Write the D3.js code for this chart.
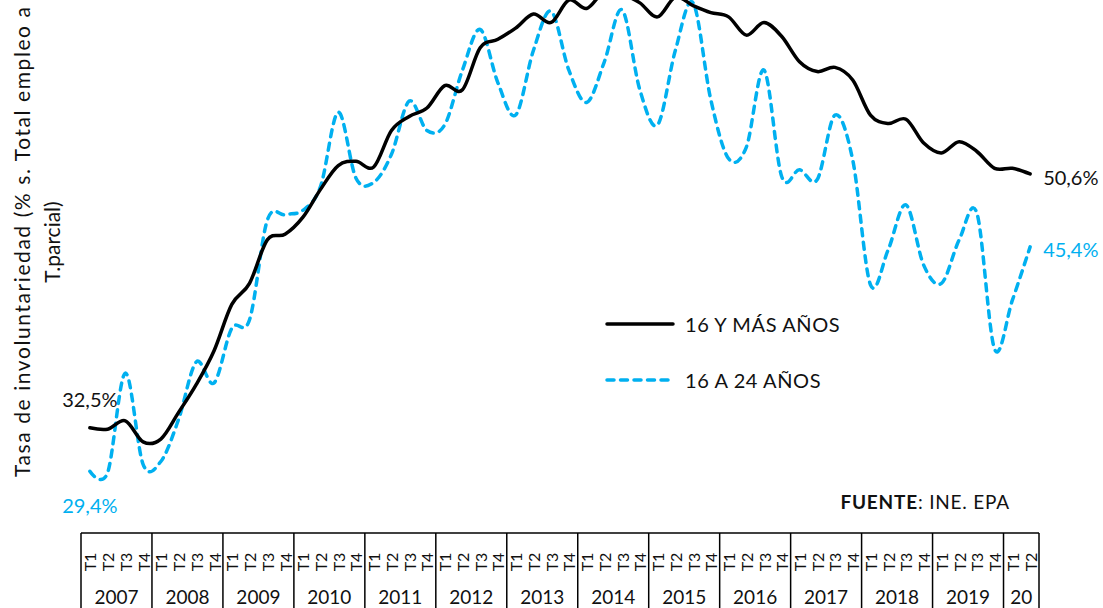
<!DOCTYPE html>
<html>
<head>
<meta charset="utf-8">
<script src="https://cdn.jsdelivr.net/npm/d3@7"></script>
<style>
  html, body { margin: 0; padding: 0; background: #fff; }
  svg { display: block; }
  svg text { font-family: Lato, "Open Sans", sans-serif; }
</style>
</head>
<body>
<svg id="chart" width="1103" height="608"></svg>
<script>
// ---------- DATA ----------
const years = ["2007","2008","2009","2010","2011","2012","2013","2014","2015","2016","2017","2018","2019","20"];
const quarterLabels = ["T1","T2","T3","T4"];
const quartersInLastYear = 2;

const serieTotal = [32.5,32.4,33.0,31.5,31.7,33.6,35.6,38.0,41.3,42.8,45.9,46.3,47.5,49.5,51.2,51.5,51.1,53.7,54.7,55.3,56.9,56.6,59.6,60.2,61.0,62.0,61.4,63.0,62.4,63.6,63.4,62.8,61.8,63.2,62.6,62.1,61.8,60.5,61.4,60.4,58.6,57.9,58.2,57.3,54.8,54.2,54.5,52.8,52.1,52.9,52.2,51.0,51.0,50.6];
const serieJovenes = [29.4,29.3,36.4,29.9,30.1,33.1,37.2,35.7,39.6,40.2,47.3,47.7,48.0,49.7,55.0,50.3,50.0,52.0,55.8,53.7,54.1,58.0,60.9,57.1,54.8,59.4,62.2,58.0,55.7,58.6,62.3,56.6,54.1,59.4,62.8,55.9,51.7,52.5,58.0,50.4,50.9,50.2,54.8,51.6,42.7,45.2,48.4,44.1,42.8,45.9,47.8,38.1,41.6,45.4];

const seriesNames = ["16 Y MÁS AÑOS", "16 A 24 AÑOS"];
const yTitleLines = ["Tasa de involuntariedad (% s. Total empleo a", "T.parcial)"];
const sourceBold = "FUENTE";
const sourceText = ": INE. EPA";

// ---------- BUILD PERIODS ----------
const periods = [];
years.forEach((yr, yi) => {
  const n = yi === years.length - 1 ? quartersInLastYear : 4;
  for (let q = 0; q < n; q++) periods.push({ key: yr + "-" + quarterLabels[q], year: yr, q: quarterLabels[q], yi });
});

// ---------- SCALES ----------
const svg = d3.select("#chart");
const axisY = 533;
const x = d3.scaleBand().domain(periods.map(p => p.key)).range([81, 1039]).padding(0);
const xc = k => x(k) + x.bandwidth() / 2;
const y = d3.scaleLinear().domain([25, 65]).range([axisY, -28]);

const blue = "#00B0F0";
const ink = "#111";

// ---------- LINES ----------
const lineGen = d3.line()
  .x((d, i) => xc(periods[i].key))
  .y(d => y(d))
  .curve(d3.curveCardinal.tension(0));

svg.append("path").datum(serieJovenes)
  .attr("d", lineGen)
  .attr("fill", "none").attr("stroke", blue).attr("stroke-width", 3.5)
  .attr("stroke-dasharray", "7,6.5").attr("stroke-linecap", "round");

svg.append("path").datum(serieTotal)
  .attr("d", lineGen)
  .attr("fill", "none").attr("stroke", "#000").attr("stroke-width", 3.5)
  .attr("stroke-linecap", "round");

// ---------- X AXIS (table style) ----------
const ax = svg.append("g");
ax.append("line").attr("x1", x.range()[0]).attr("x2", x.range()[1])
  .attr("y1", axisY).attr("y2", axisY).attr("stroke", "#000").attr("stroke-width", 1.5);

const yearStarts = years.map((yr, yi) => periods.find(p => p.yi === yi));
const bounds = yearStarts.map(p => x(p.key)).concat([x.range()[1]]);
ax.selectAll("line.sep").data(bounds).join("line")
  .attr("class", "sep")
  .attr("x1", d => d).attr("x2", d => d)
  .attr("y1", axisY).attr("y2", 620)
  .attr("stroke", "#000").attr("stroke-width", 1.5);

ax.selectAll("text.q").data(periods).join("text")
  .attr("class", "q")
  .attr("transform", d => `translate(${xc(d.key)},${axisY + 29}) rotate(-90)`)
  .attr("text-anchor", "middle").attr("dominant-baseline", "central")
  .attr("font-size", 16).attr("fill", ink)
  .text(d => d.q);

ax.selectAll("text.yr").data(years).join("text")
  .attr("class", "yr")
  .attr("x", (d, i) => (bounds[i] + bounds[i + 1]) / 2)
  .attr("y", 604)
  .attr("text-anchor", "middle")
  .attr("font-size", 19).attr("fill", ink)
  .text(d => d);

// ---------- Y TITLE ----------
svg.selectAll("text.ytitle").data(yTitleLines).join("text")
  .attr("class", "ytitle")
  .attr("transform", (d, i) => `translate(${21 + i * 30},242) rotate(-90)`)
  .attr("text-anchor", "middle").attr("dominant-baseline", "central")
  .attr("font-size", 21).attr("fill", ink)
  .attr("textLength", (d, i) => i === 0 ? 470 : null)
  .attr("lengthAdjust", "spacing")
  .text(d => d);

// ---------- END LABELS ----------
const fmt = v => d3.format(".1f")(v).replace(".", ",") + "%";
const n = periods.length - 1;
const labels = [
  { text: fmt(serieTotal[0]), x: xc(periods[0].key), y: y(serieTotal[0]) - 29, anchor: "middle", color: ink },
  { text: fmt(serieJovenes[0]), x: xc(periods[0].key), y: y(serieJovenes[0]) + 34, anchor: "middle", color: blue },
  { text: fmt(serieTotal[n]), x: xc(periods[n].key) + 13, y: y(serieTotal[n]) + 3, anchor: "start", color: ink },
  { text: fmt(serieJovenes[n]), x: xc(periods[n].key) + 13, y: y(serieJovenes[n]) + 2, anchor: "start", color: blue }
];
svg.selectAll("text.endlbl").data(labels).join("text")
  .attr("class", "endlbl")
  .attr("x", d => d.x).attr("y", d => d.y)
  .attr("text-anchor", d => d.anchor).attr("dominant-baseline", "central")
  .attr("font-size", 20).attr("fill", d => d.color)
  .text(d => d.text);

// ---------- LEGEND ----------
const legend = svg.append("g").attr("transform", "translate(607,324)");
const legItems = [
  { name: seriesNames[0], color: "#000", dash: null },
  { name: seriesNames[1], color: blue, dash: "7,6.5" }
];
legItems.forEach((it, i) => {
  const g = legend.append("g").attr("transform", `translate(0,${i * 56})`);
  g.append("line").attr("x1", 0).attr("x2", 66).attr("y1", 0).attr("y2", 0)
    .attr("stroke", it.color).attr("stroke-width", 3.5).attr("stroke-linecap", "round")
    .attr("stroke-dasharray", it.dash);
  g.append("text").attr("x", 78).attr("y", 0).attr("dominant-baseline", "central")
    .attr("font-size", 20).attr("letter-spacing", 0.6).attr("fill", ink).text(it.name);
});

// ---------- SOURCE ----------
const src = svg.append("text").attr("x", 1010).attr("y", 501)
  .attr("text-anchor", "end").attr("dominant-baseline", "central")
  .attr("font-size", 19).attr("letter-spacing", 0.8).attr("fill", ink);
src.append("tspan").attr("font-weight", "bold").text(sourceBold);
src.append("tspan").text(sourceText);
</script>
</body>
</html>
